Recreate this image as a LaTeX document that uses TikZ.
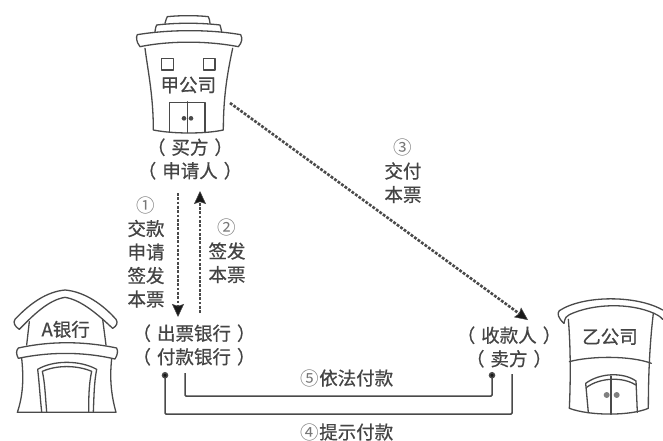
\documentclass[tikz,border=0pt]{standalone}
\usepackage{fontspec}
\setmainfont[FakeBold=0.7]{Noto Sans CJK SC}
\newfontfamily\digitfont{Noto Sans CJK SC}
\usetikzlibrary{arrows.meta}
\definecolor{ink}{HTML}{4A4A4A}
\definecolor{txt}{HTML}{444444}
\definecolor{digit}{HTML}{777777}
\newcommand{\cn}[1]{{\digitfont\textcolor{digit}{#1}}}
\newcommand{\lpr}{（\hspace{6pt}}
\newcommand{\rpr}{\hspace{6pt}）}
\tikzset{
  lbl/.style={text=txt,font=\fontsize{18.5}{23.5}\selectfont,align=center,inner sep=0pt},
  bld/.style={draw=ink,line width=1.3pt,line join=round,line cap=round},
  dotarrow/.style={draw=ink,line width=2.6pt,dash pattern=on 2.8pt off 1.5pt,-{Stealth[length=13pt,width=12pt,inset=2pt,fill=black!90,line width=0.5pt]}},
  solidarrow/.style={draw=ink,line width=1.5pt,rounded corners=1pt,-{Circle[length=6.5pt,fill=black!90]}},
}
\begin{document}
\begin{tikzpicture}[x=1pt,y=-1pt]
\useasboundingbox (0,0) rectangle (663,441);
% buyer building
\begin{scope}[shift={(110,0)},scale=1/3]
\draw[bld] (165,70) .. controls (168,60) and (170,52) .. (172,50) .. controls (210,46) and (260,46) .. (295,50) .. controls (298,55) and (299,62) .. (300,70);
\draw[bld] (135,95) .. controls (136,85) and (138,78) .. (140,75) .. controls (200,68) and (270,68) .. (330,75) .. controls (332,80) and (333,88) .. (335,95);
\draw[bld] (90,140) .. controls (78,125) and (78,110) .. (82,104) .. controls (180,88) and (300,88) .. (392,104) .. controls (398,115) and (396,128) .. (385,140) .. controls (290,122) and (180,122) .. (90,140) -- cycle;
\draw[bld] (105,145) .. controls (115,220) and (130,290) .. (130,390) .. controls (190,402) and (285,402) .. (340,390) .. controls (340,290) and (352,220) .. (368,145);
\draw[bld] (155,175) rectangle (190,210);
\draw[bld] (280,175) rectangle (315,210);
\draw[bld] (178,397) -- (178,307) -- (285,307) -- (285,397);
\draw[bld] (232,305) -- (232,398);
\fill[ink] (222,355) circle (7) (243,355) circle (7);
\node[lbl] (buyername) at (235,255) {甲公司};
\end{scope}
% bank building
\begin{scope}[shift={(0,280)},scale=1/3]
\draw[bld] (58,148) .. controls (45,140) and (38,128) .. (45,118) .. controls (90,70) and (140,35) .. (195,30) .. controls (255,35) and (310,75) .. (348,118) .. controls (355,128) and (350,138) .. (338,145) .. controls (295,105) and (245,60) .. (195,52) .. controls (145,60) and (100,105) .. (58,148) -- cycle;
\draw[bld] (88,125) -- (80,195);
\draw[bld] (308,118) -- (318,195);
\draw[bld] (55,235) .. controls (48,222) and (48,212) .. (55,204) .. controls (150,183) and (250,183) .. (350,204) .. controls (355,215) and (352,225) .. (345,237) .. controls (250,215) and (150,215) .. (55,235) -- cycle;
\draw[bld] (65,235) .. controls (72,300) and (68,350) .. (52,397) -- (348,397) .. controls (335,350) and (328,300) .. (335,237);
\draw[bld] (125,395) .. controls (120,350) and (118,310) .. (113,268) .. controls (160,240) and (240,240) .. (290,268) .. controls (282,310) and (282,350) .. (280,395);
\draw[bld] (140,395) .. controls (136,350) and (135,310) .. (127,274) .. controls (170,255) and (230,255) .. (275,274) .. controls (267,310) and (266,350) .. (266,395);
\node[lbl] (bankname) at (197,148) {A银行};
\end{scope}
% payee building
\begin{scope}[shift={(440,280)},scale=1/3]
\draw[bld] (372,130) .. controls (355,115) and (350,100) .. (358,92) .. controls (430,45) and (590,45) .. (668,90);
\draw[bld] (372,130) .. controls (375,112) and (380,108) .. (388,104) .. controls (460,70) and (570,68) .. (642,100) .. controls (650,104) and (660,108) .. (668,118);
\draw[bld] (385,118) .. controls (392,200) and (392,300) .. (388,385) .. controls (450,408) and (570,408) .. (625,385) .. controls (625,300) and (628,200) .. (640,100);
\draw[bld] (388,245) .. controls (450,228) and (570,226) .. (634,250);
\draw[bld] (445,398) -- (437,310) .. controls (480,278) and (550,276) .. (588,303) -- (592,397);
\draw[bld] (440,322) .. controls (480,292) and (550,290) .. (587,315);
\draw[bld] (513,288) -- (513,403);
\fill[ink!70] (500,345) circle (9) (530,345) circle (9);
\node[lbl] (payeename) at (510,170) {乙公司};
\end{scope}
% labels
\node[lbl] (buyer) at (190,159) {\lpr 买方\rpr\\\lpr 申请人\rpr};
\node[lbl] (bank) at (194,345) {\lpr 出票银行\rpr\\\lpr 付款银行\rpr};
\node[lbl] (payee) at (509,347) {\lpr 收款人\rpr\\\lpr 卖方\rpr};
\node[lbl] (s1) at (146,252) {\cn{①}\\交款\\申请\\签发\\本票};
\node[lbl] (s2) at (227,251) {\cn{②}\\签发\\本票};
\node[lbl] (s3) at (403,171) {\cn{③}\\交付\\本票};
\node[lbl] (s5) at (347,378) {\cn{⑤}依法付款};
\node[lbl] (s4) at (347,432) {\cn{④}提示付款};
% connector anchors
\coordinate (a1) at (178,193);
\coordinate (b1) at (178,317);
\coordinate (a2) at (200,313);
\coordinate (b2) at (200,191);
\coordinate (a3) at (230,103);
\coordinate (b3) at (528,320);
\coordinate (a5) at (185,373);
\coordinate (b5) at (492,372);
\coordinate (a4) at (512,374);
\coordinate (b4) at (165,372);
\draw[dotarrow] (a1) -- (b1);
\draw[dotarrow] (a2) -- (b2);
\draw[dotarrow] (a3) -- (b3);
\draw[solidarrow] (a5) |- (338,396) -| (b5);
\draw[solidarrow] (a4) |- (338,414) -| (b4);
\end{tikzpicture}
\end{document}
